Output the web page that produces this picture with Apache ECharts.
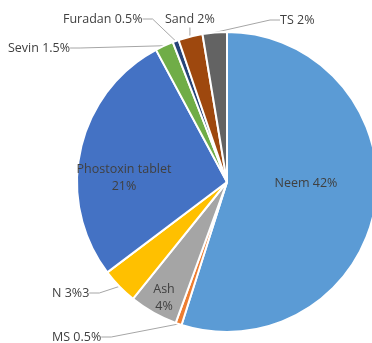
<!DOCTYPE html>
<html><head><meta charset="utf-8">
<script src="https://cdn.jsdelivr.net/npm/echarts@6/dist/echarts.min.js"></script>
<style>html,body{margin:0;padding:0;background:#fff}#c{width:372px;height:343px}</style>
</head><body><div id="c"></div>
<script>
const categories = ['Neem', 'MS', 'Ash', 'N', 'Phostoxin tablet', 'Sevin', 'Furadan', 'Sand', 'TS'];
const values = [42, 0.5, 4, 3, 21, 1.5, 0.5, 2, 2];
const labelTexts = ['Neem 42%', 'MS 0.5%', 'Ash\n4%', 'N 3%3', 'Phostoxin tablet\n21%', 'Sevin 1.5%', 'Furadan 0.5%', 'Sand 2%', 'TS 2%'];

const colors = ['#5B9BD5', '#ED7D31', '#A5A5A5', '#FFC000', '#4472C4', '#70AD47', '#264478', '#9E480E', '#636363'];
const inside = [true, false, true, false, true, false, false, false, false];
const labelPos = [
  [306, 183, 'center'], [52, 337, 'left'], [164, 298, 'center'], [52, 293, 'left'],
  [124, 178, 'center'], [8, 48, 'left'], [63, 19, 'left'], [165, 19, 'left'], [280, 20, 'left']
];

const chart = echarts.init(document.getElementById('c'));
chart.setOption({
  animation: false,
  series: [{
    type: 'pie',
    center: [227, 182],
    radius: 150,
    startAngle: 90,
    clockwise: true,
    avoidLabelOverlap: false,
    itemStyle: { borderColor: '#fff', borderWidth: 2 },
    label: {
      show: true,
      color: '#404040',
      fontFamily: 'Open Sans',
      fontSize: 12.5,
      lineHeight: 17,
      formatter: p => labelTexts[p.dataIndex]
    },
    labelLine: { show: true, length: 10, length2: 10, lineStyle: { color: '#a6a6a6', width: 1 } },
    labelLayout: p => {
      const lp = labelPos[p.dataIndex];
      return { x: lp[0], y: lp[1], align: lp[2], verticalAlign: 'middle' };
    },
    data: categories.map((c, i) => ({
      name: c,
      value: values[i],
      itemStyle: { color: colors[i] },
      label: { position: inside[i] ? 'inside' : 'outside', align: labelPos[i][2] },
      labelLine: { show: !inside[i] }
    }))
  }]
});
</script></body></html>
